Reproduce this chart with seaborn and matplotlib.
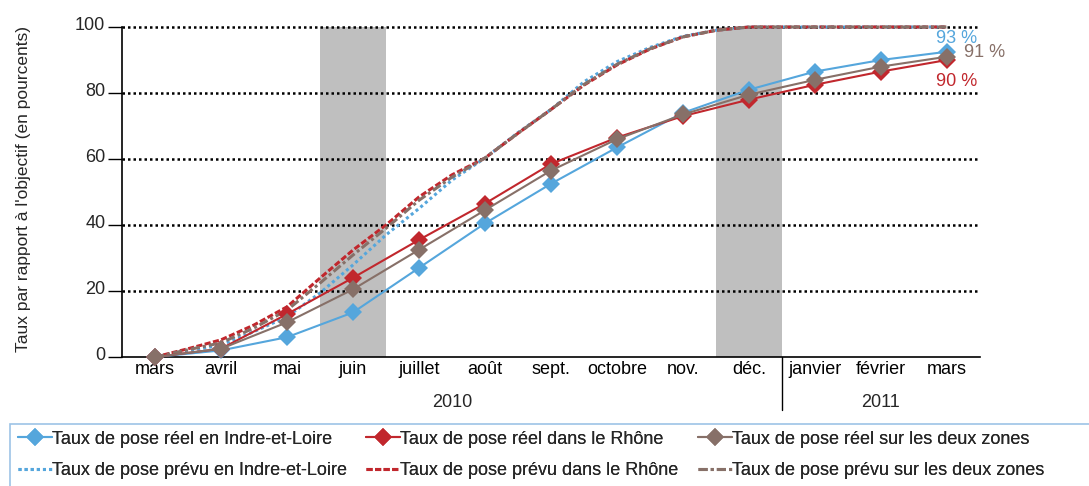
import matplotlib
matplotlib.use("Agg")
import matplotlib.pyplot as plt
from matplotlib.patches import Rectangle
from matplotlib.lines import Line2D
from matplotlib.transforms import ScaledTranslation
import numpy as np
import pandas as pd
import seaborn as sns

sns.set_theme(style="white")
plt.rcParams["font.family"] = ["Liberation Sans", "DejaVu Sans"]

# --- data ---
months = ["mars", "avril", "mai", "juin", "juillet", "août", "sept.",
          "octobre", "nov.", "déc.", "janvier", "février", "mars"]
years = ["2010", "2011"]

real_indre = [0, 2, 6, 13.5, 27, 40.5, 52.5, 63.5, 74, 81, 86.5, 90, 92.5]
real_rhone = [0, 2.5, 13, 24, 35.5, 46.5, 58.5, 66.5, 73, 78, 82.5, 86.5, 90]
real_both = [0, 2.5, 10.5, 20.5, 32.5, 44.5, 56.5, 66, 73.5, 79.5, 84, 88, 91]

# planned values, every half month
plan_step = [0, 0.5, 1, 1.5, 2, 2.5, 3, 3.5, 4, 4.5, 5, 5.5, 6, 6.5, 7, 7.5,
             8, 8.5, 9, 9.5, 10, 10.5, 11, 11.5, 12]
plan_indre = [0, 1.8, 3.6, 7.7, 12.2, 19.4, 27.9, 37, 45, 53.6, 60.3, 68, 75,
              83.4, 89.5, 93.8, 97.2, 99, 100, 100, 100, 100, 100, 100, 100]
plan_rhone = [0, 2.5, 5.2, 9.7, 15.2, 23.9, 32.4, 40, 48.5, 55.2, 60.3, 67.8, 75,
              82.4, 88.5, 93.3, 97, 99, 100, 100, 100, 100, 100, 100, 100]
plan_both = [0, 2.2, 4.3, 8.8, 14.2, 22.4, 30.9, 39, 47.5, 54.5, 60.3, 67.8, 75,
             82.6, 88.7, 93.4, 97, 99, 100, 100, 100, 100, 100, 100, 100]

labels_real = ["Taux de pose réel en Indre-et-Loire",
               "Taux de pose réel dans le Rhône",
               "Taux de pose réel sur les deux zones"]
labels_plan = ["Taux de pose prévu en Indre-et-Loire",
               "Taux de pose prévu dans le Rhône",
               "Taux de pose prévu sur les deux zones"]
end_labels = ["93 %", "90 %", "91 %"]

blue, red, brown = "#55A6DC", "#C1272D", "#877068"
colors = [blue, red, brown]
plan_styles = [(0, (1, 1)), (0, (2, 0.8)), (0, (3, 1, 1, 1))]
label_offsets = [(10, 13), (10, -22), (38, 4)]
FS = 13

fig = plt.figure(figsize=(10.89, 4.86), dpi=100)
ax = fig.add_axes([122 / 1089, 1 - 357 / 486, (980 - 122) / 1089, 330 / 486])

x_real = np.arange(len(months))

# shaded months (juin, déc.)
for m in (3, 9):
    ax.axvspan(m - 0.5, m + 0.5, color="#BFBFBF", lw=0, zorder=0)

for v in (20, 40, 60, 80, 100):
    ax.axhline(v, color="black", lw=1.8, ls=(0, (1, 1.2)), zorder=1, clip_on=False)

plan_handles = []
for vals, col, ls, lab in zip([plan_indre, plan_rhone, plan_both], colors, plan_styles, labels_plan):
    df = pd.DataFrame({"x": plan_step, "y": vals})
    sns.lineplot(data=df, x="x", y="y", ax=ax, color=col, lw=2.2, linestyle=ls,
                 zorder=2, clip_on=False, legend=False)
    plan_handles.append(Line2D([], [], color=col, lw=2.2, ls=ls, label=lab))

real_handles = []
for vals, col, lab, txt, off in zip([real_indre, real_rhone, real_both], colors,
                                    labels_real, end_labels, label_offsets):
    df = pd.DataFrame({"x": x_real, "y": vals})
    sns.lineplot(data=df, x="x", y="y", ax=ax, color=col, lw=1.5, marker="D",
                 markersize=9, markeredgewidth=0, zorder=3, clip_on=False, legend=False)
    real_handles.append(Line2D([], [], color=col, lw=1.5, marker="D", markersize=9,
                               markeredgewidth=0, label=lab))
    ax.annotate(txt, (x_real[-1], vals[-1]), xytext=off, textcoords="offset pixels",
                ha="center", va="center", color=col, fontsize=FS, annotation_clip=False)

ax.set_xlim(-0.5, len(months) - 0.5)
ax.set_ylim(0, 100)
ax.set_yticks([0, 20, 40, 60, 80, 100])
ax.set_xticks(x_real)
ax.set_xticklabels(months)
ax.set_xticks(np.arange(-0.5, len(months)), minor=True)
ax.tick_params(axis="x", which="major", length=0, pad=3, labelsize=FS, colors="black")
ax.tick_params(axis="x", which="minor", length=13, width=1, color="black", direction="out")
ax.tick_params(axis="y", length=10, width=1, color="black", direction="out", pad=2,
               labelsize=FS, left=True)
# tick labels sit a little above their tick in the reference
up = ScaledTranslation(0, 0.04, fig.dpi_scale_trans)
for lbl in ax.get_yticklabels():
    lbl.set_transform(lbl.get_transform() + up)

ax.set_xlabel("")
ax.set_ylabel("Taux par rapport à l'objectif (en pourcents)", fontsize=12.5)
ax.yaxis.set_label_coords(-91 / 858, 0.51)

for s in ("top", "right"):
    ax.spines[s].set_visible(False)
for s in ("left", "bottom"):
    ax.spines[s].set_color("black")
    ax.spines[s].set_linewidth(1.2)

# year separator and year labels
tr = ax.get_xaxis_transform()
ax.plot([9.5, 9.5], [0, -0.16], color="black", lw=1, transform=tr, clip_on=False)
ax.text(4.5, -0.137, years[0], transform=tr, ha="center", va="center", fontsize=FS)
ax.text(11.0, -0.137, years[1], transform=tr, ha="center", va="center", fontsize=FS)

# legend box (bottom and right edges run off the image)
fig.patches.append(Rectangle((10 / 1089, -0.1), 1.2, (486 - 424) / 486 + 0.1,
                             transform=fig.transFigure, fill=False,
                             edgecolor="#9DC3E6", lw=1.2))
for (rh, ph), xpx in zip(zip(real_handles, plan_handles), (18, 366, 698)):
    leg = fig.legend(handles=[rh, ph], loc="center left",
                     bbox_to_anchor=(xpx / 1089, 1 - 455 / 486), frameon=False,
                     fontsize=FS, handlelength=1.9, handletextpad=0.0,
                     labelspacing=0.8, borderpad=0, borderaxespad=0)
    fig.add_artist(leg)

fig.savefig("out.png", dpi=100)
